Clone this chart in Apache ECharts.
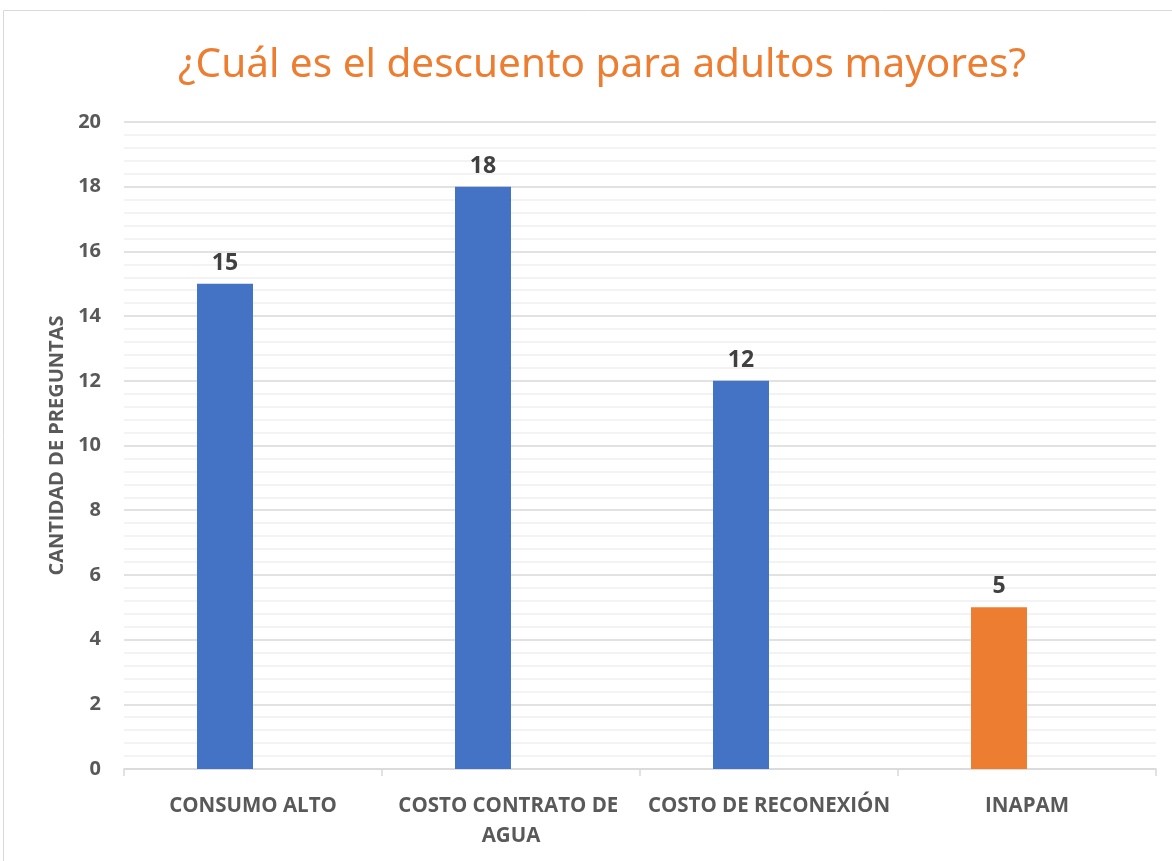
<!DOCTYPE html>
<html>
<head>
<meta charset="utf-8">
<script src="https://cdn.jsdelivr.net/npm/echarts@6/dist/echarts.min.js"></script>
<style>
  html, body { margin: 0; padding: 0; background: #fff; }
  #chart-panel { width: 1172px; height: 861px; }
</style>
</head>
<body>
<div id="chart-panel"></div>
<script>
const titleText = "¿Cuál es el descuento para adultos mayores?"
const yName = "CANTIDAD DE PREGUNTAS"
const categories = ["CONSUMO ALTO", "COSTO CONTRATO DE AGUA", "COSTO DE RECONEXIÓN", "INAPAM"]
const values = [15, 18, 12, 5]
const barColors = ["#4472C4", "#4472C4", "#4472C4", "#ED7D31"]

const chart = echarts.init(document.getElementById("chart-panel"))
const font = "'Open Sans', 'Noto Sans', sans-serif"

const options = {
  backgroundColor: "#fff",
  textStyle: { fontFamily: font },
  graphic: [
    {
      type: "rect",
      shape: { x: 3.5, y: 10.5, width: 1200, height: 900 },
      style: { fill: "none", stroke: "#d9d9d9", lineWidth: 1 },
      silent: true
    }
  ],
  title: {
    text: titleText,
    left: 597,
    textAlign: "center",
    top: 40,
    textStyle: {
      color: "#ED7D31",
      fontSize: 40.5,
      fontWeight: "normal",
      fontFamily: "'Noto Sans', sans-serif"
    }
  },
  grid: {
    left: 124,
    right: 16,
    top: 122,
    bottom: 92
  },
  xAxis: {
    type: "category",
    data: categories,
    axisLine: { show: true, lineStyle: { color: "#d9d9d9", width: 1.5 } },
    axisTick: { show: true, length: 7, lineStyle: { color: "#d9d9d9", width: 1.5 } },
    axisLabel: {
      color: "#595959",
      fontSize: 20.5,
      fontWeight: "bold",
      margin: 22,
      lineHeight: 30,
      interval: 0,
      width: 252,
      overflow: "break"
    }
  },
  yAxis: {
    type: "value",
    min: 0,
    max: 20,
    interval: 2,
    name: yName,
    nameLocation: "middle",
    nameRotate: 90,
    nameGap: 57,
    nameTextStyle: { color: "#595959", fontSize: 20, fontWeight: "bold" },
    axisLine: { show: false },
    axisTick: { show: false },
    axisLabel: { color: "#595959", fontSize: 20, fontWeight: "bold", margin: 23 },
    splitLine: { show: true, lineStyle: { color: "#d9d9d9", width: 1.5 } },
    minorTick: { show: false, splitNumber: 5 },
    minorSplitLine: { show: true, lineStyle: { color: "#f0f0f0", width: 1.5 } }
  },
  series: [
    {
      type: "bar",
      data: values.map((v, i) => ({ value: v, itemStyle: { color: barColors[i] } })),
      barWidth: 56,
      barGap: "0%",
      label: {
        show: true,
        position: "top",
        distance: 9,
        color: "#404040",
        fontSize: 23,
        fontWeight: "bold"
      }
    },
    {
      // empty second slot, keeps bars left of the category centre as in the source
      type: "bar",
      data: [],
      barWidth: 56,
      barGap: "0%",
      silent: true
    }
  ]
}
chart.setOption(options)
</script>
</body>
</html>
